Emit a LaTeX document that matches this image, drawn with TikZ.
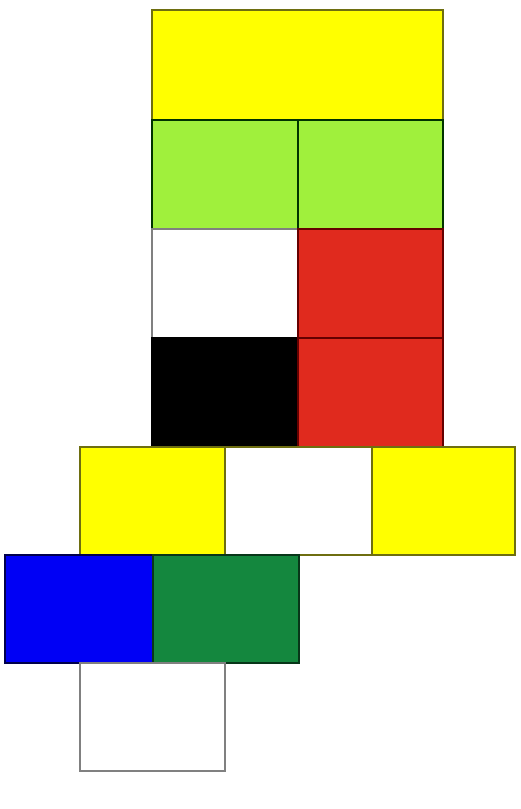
\documentclass[tikz,border=0pt]{standalone}
\definecolor{yel}{HTML}{FFFF00}
\definecolor{yelb}{HTML}{6E6E10}
\definecolor{lgr}{HTML}{A0F03C}
\definecolor{red1}{HTML}{E02A1E}
\definecolor{blu}{HTML}{0000F5}
\definecolor{dgr}{HTML}{14873E}
\begin{document}
\begin{tikzpicture}[x=1pt,y=-1pt,
  cell/.style={draw=#1, line width=2.8pt, anchor=north west, inner sep=0pt, outer sep=0pt},
]
\useasboundingbox (0,0) rectangle (520,809);
\fill[white] (0,0) rectangle (520,809);
% row 1
\node[cell=yelb, fill=yel, minimum width=291pt, minimum height=110pt] (y1) at (152,10) {};
% row 2
\node[cell=black!80!green, fill=lgr, minimum width=146pt, minimum height=109pt] (g1) at (152,120) {};
\node[cell=black!80!green, fill=lgr, minimum width=145pt, minimum height=109pt] (g2) at (298,120) {};
% row 3
\node[cell=gray, fill=white, minimum width=146pt, minimum height=109pt] (w1) at (152,229) {};
\node[cell=black!60!red, fill=red1, minimum width=145pt, minimum height=109pt] (r1) at (298,229) {};
% row 4
\node[cell=black, fill=black, minimum width=146pt, minimum height=109pt] (k1) at (152,338) {};
\node[cell=black!60!red, fill=red1, minimum width=145pt, minimum height=109pt] (r2) at (298,338) {};
% row 5
\node[cell=yelb, fill=yel, minimum width=145pt, minimum height=108pt] (y2) at (80,447) {};
\node[cell=yelb, fill=white, minimum width=147pt, minimum height=108pt] (w2) at (225,447) {};
\node[cell=yelb, fill=yel, minimum width=143pt, minimum height=108pt] (y3) at (372,447) {};
% row 6
\node[cell=black!70!blue, fill=blu, minimum width=148pt, minimum height=108pt] (b1) at (5,555) {};
\node[cell=black!60!dgr, fill=dgr, minimum width=146pt, minimum height=108pt] (d1) at (153,555) {};
% row 7
\node[cell=gray, fill=white, minimum width=145pt, minimum height=108pt] (w3) at (80,663) {};
\end{tikzpicture}
\end{document}
